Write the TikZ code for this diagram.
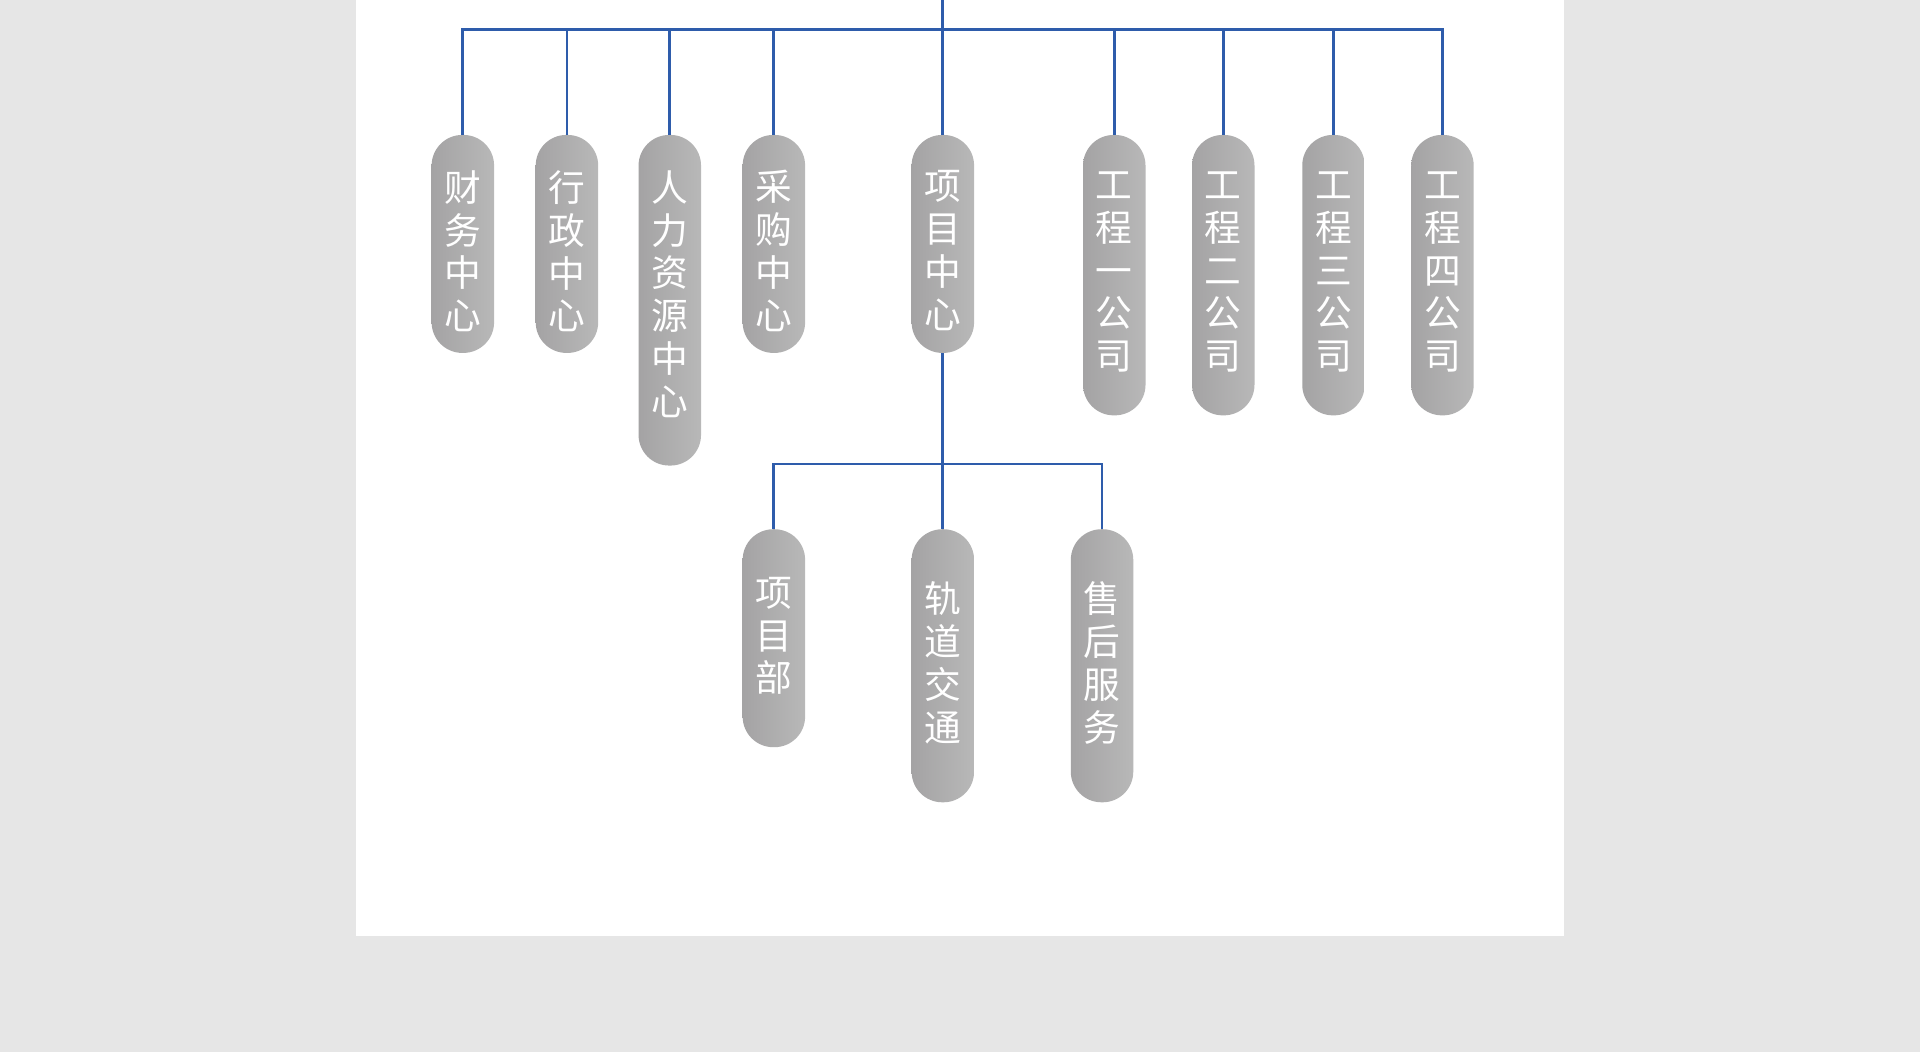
\documentclass[tikz,border=0pt]{standalone}
\usepackage{fontspec}
\newfontfamily\cjk{Noto Sans CJK SC}

\definecolor{pagegray}{HTML}{E6E6E6}
\definecolor{linkblue}{HTML}{2E5CAB}
\definecolor{pilldark}{HTML}{A4A3A4}
\definecolor{pilllight}{HTML}{B8B8B8}

% height, top gap, characters
\newcommand\pilltext[3]{\parbox[c][#1][t]{51pt}{\centering\vspace*{#2}#3}}

\tikzset{
  pill/.style={rectangle,rounded corners=25pt,minimum width=51pt,inner sep=0pt,anchor=north,
    left color=pilldark,right color=pilllight,text=white,
    font=\cjk\fontsize{30}{35}\selectfont},
  link/.style={draw=linkblue,line width=2.3pt},
}

\begin{document}
\begin{tikzpicture}[x=1pt,y=1pt]
	% page
	\fill[pagegray] (0,0) rectangle (1568,-859);
	\fill[white] (291,0) rectangle (1277,-764);
	\useasboundingbox (0,0) rectangle (1568,-859);
	% first level
	\node[pill] (cw) at (378,-110) {\pilltext{178pt}{29pt}{财\\务\\中\\心}};
	\node[pill] (xz) at (463,-110) {\pilltext{178pt}{29pt}{行\\政\\中\\心}};
	\node[pill] (rl) at (547,-110) {\pilltext{270pt}{29pt}{人\\力\\资\\源\\中\\心}};
	\node[pill] (cg) at (632,-110) {\pilltext{178pt}{29pt}{采\\购\\中\\心}};
	\node[pill] (xm) at (770,-110) {\pilltext{178pt}{29pt}{项\\目\\中\\心}};
	\node[pill] (gc1) at (910,-110) {\pilltext{229pt}{30pt}{工\\程\\一\\公\\司}};
	\node[pill] (gc2) at (999,-110) {\pilltext{229pt}{30pt}{工\\程\\二\\公\\司}};
	\node[pill] (gc3) at (1089,-110) {\pilltext{229pt}{30pt}{工\\程\\三\\公\\司}};
	\node[pill] (gc4) at (1178,-110) {\pilltext{229pt}{30pt}{工\\程\\四\\公\\司}};
	% second level
	\node[pill] (xmb) at (632,-432) {\pilltext{178pt}{39pt}{项\\目\\部}};
	\node[pill] (gd) at (770,-432) {\pilltext{223pt}{43pt}{轨\\道\\交\\通}};
	\node[pill] (sh) at (900,-432) {\pilltext{223pt}{43pt}{售\\后\\服\\务}};
	% connectors
	\coordinate (root) at (770,0);
	\coordinate (bus) at (770,-24);
	\coordinate (sub) at (770,-379);
	\draw[link] (root) -- (xm.north);
	\draw[link] (cw.north) |- (bus) -| (gc4.north);
	\foreach \n in {xz,rl,cg,gc1,gc2,gc3}
		\draw[link] (\n.north) -- (\n.north |- bus);
	\draw[link] (xm.south) -- (gd.north);
	\draw[link] (xmb.north) |- (sub) -| (sh.north);
\end{tikzpicture}
\end{document}
